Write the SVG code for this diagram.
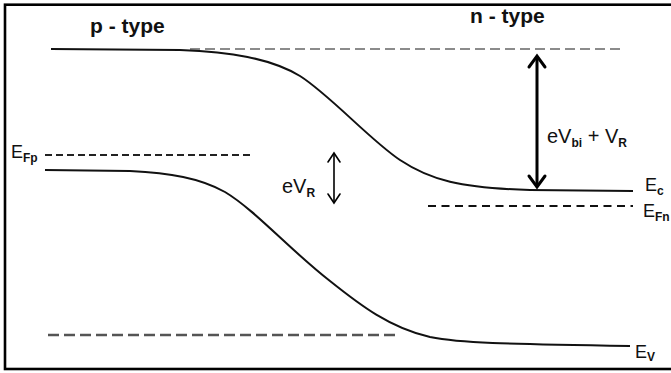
<svg xmlns="http://www.w3.org/2000/svg" width="671" height="373" viewBox="0 0 671 373">
<style>
.lbl{font-family:"Liberation Sans",Arial,sans-serif;font-size:18px;fill:#111}
.big{font-size:20px}
.sub{font-size:12px;font-weight:bold}
.title{font-family:"Liberation Sans",Arial,sans-serif;font-size:21px;font-weight:bold;fill:#111}
.band{fill:none;stroke:#111;stroke-width:2}
.arrow{fill:none;stroke:#000;stroke-linecap:round;stroke-linejoin:miter}
</style>
<rect x="0" y="0" width="671" height="373" fill="#fff"/>
<rect x="5" y="4.7" width="680" height="364.3" fill="none" stroke="#000" stroke-width="2.6"/>

<g id="levels">
<line x1="190" y1="49" x2="623" y2="49" stroke="#666" stroke-width="1.5" stroke-dasharray="10 5"/>
<line x1="45" y1="155" x2="250" y2="155" stroke="#222" stroke-width="1.8" stroke-dasharray="7 4"/>
<line x1="428" y1="206" x2="633" y2="206" stroke="#111" stroke-width="2" stroke-dasharray="8 5.5"/>
<line x1="48" y1="335" x2="395" y2="335" stroke="#555" stroke-width="2.5" stroke-dasharray="11 5"/>
</g>

<g id="conduction-band">
<path class="band" d="M51,49 L180,50 C230,52 270,58 300,76 C330,95 370,140 400,160 C430,180 460,188 530,190 L633,191"/>
</g>
<g id="valence-band">
<path class="band" d="M45,170 L130,171 C170,173 200,178 225,192 C255,210 290,250 330,281 C360,305 390,328 430,337 C460,343 500,344 630,346"/>
</g>

<g id="connectors">
<line class="arrow" x1="537" y1="57" x2="537" y2="186" stroke-width="3"/>
<polyline class="arrow" points="529,67 537,56 545,67" stroke-width="3"/>
<polyline class="arrow" points="529,176 537,187 545,176" stroke-width="3"/>
<line class="arrow" x1="334" y1="154" x2="334" y2="202" stroke-width="1.6"/>
<polyline class="arrow" points="328,162 334,153 340,162" stroke-width="1.6"/>
<polyline class="arrow" points="328,194 334,203 340,194" stroke-width="1.6"/>
</g>

<g id="label-ptype"><text class="title" x="90" y="33">p - type</text></g>
<g id="label-ntype"><text class="title" x="470" y="23">n - type</text></g>
<g id="label-EFp"><text class="lbl" x="11" y="158">E<tspan class="sub" dy="4">Fp</tspan></text></g>
<g id="label-Ec"><text class="lbl" x="645" y="191">E<tspan class="sub" dy="4">c</tspan></text></g>
<g id="label-EFn"><text class="lbl" x="643" y="217">E<tspan class="sub" font-size="11px" dy="4">Fn</tspan></text></g>
<g id="label-Ev"><text class="lbl" x="635" y="358">E<tspan class="sub" dy="3" font-weight="normal">V</tspan></text></g>
<g id="label-eVR"><text class="lbl big" x="282" y="193">eV<tspan class="sub" dy="4">R</tspan></text></g>
<g id="label-eVbi"><text class="lbl big" x="547" y="143">eV<tspan class="sub" dy="4">bi</tspan><tspan dy="-4"> + V</tspan><tspan class="sub" dy="4">R</tspan></text></g>
</svg>
